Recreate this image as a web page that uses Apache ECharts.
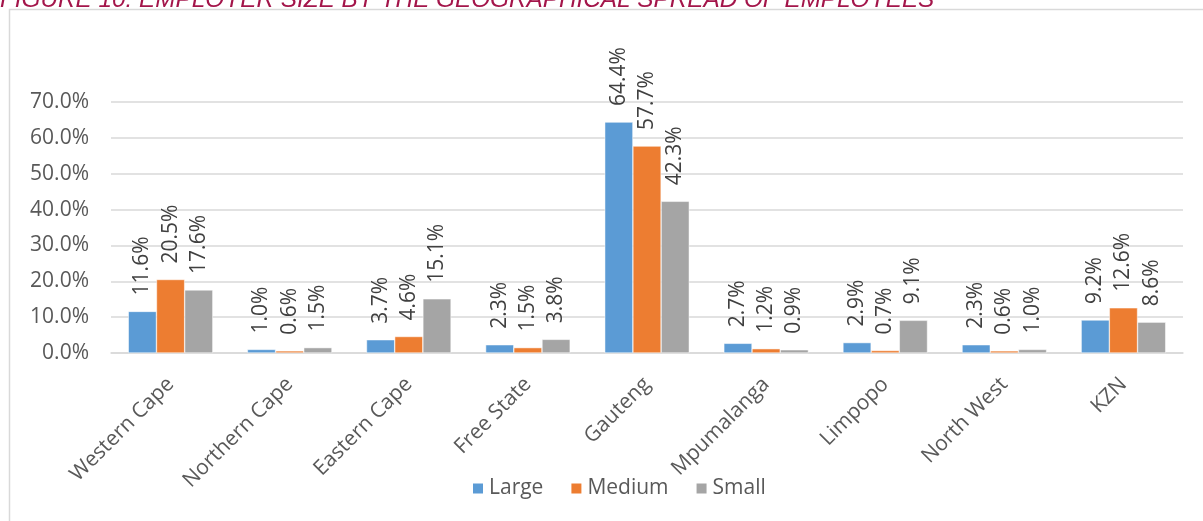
<!DOCTYPE html>
<html><head><meta charset="utf-8">
<script src="https://cdn.jsdelivr.net/npm/echarts@6/dist/echarts.min.js"></script>
<style>html,body{margin:0;padding:0;background:#fff}#c{width:1203px;height:521px}</style>
</head><body><div id="c"></div>
<script>
var titleText = 'FIGURE 10: EMPLOYER SIZE BY THE GEOGRAPHICAL SPREAD OF EMPLOYEES';
var categories = ['Western Cape','Northern Cape','Eastern Cape','Free State','Gauteng','Mpumalanga','Limpopo','North West','KZN'];
var seriesNames = ['Large','Medium','Small'];
var large  = [11.6, 1.0, 3.7, 2.3, 64.4, 2.7, 2.9, 2.3, 9.2];
var medium = [20.5, 0.6, 4.6, 1.5, 57.7, 1.2, 0.7, 0.6, 12.6];
var small  = [17.6, 1.5, 15.1, 3.8, 42.3, 0.9, 9.1, 1.0, 8.6];
var colors = ['#5B9BD5','#ED7D31','#A5A5A5'];
var font = '"Open Sans", "Noto Sans", sans-serif';

var chart = echarts.init(document.getElementById('c'), null, {renderer:'canvas'});
function mk(name, data, color){
  return {
    name: name, type:'bar', data:data, barGap:'0%', barCategoryGap:'29%',
    itemStyle:{color:color, borderColor:'#ffffff', borderWidth:0.5},
    label:{show:true, position:'top', rotate:90, align:'left', verticalAlign:'middle', distance:16,
      formatter:function(p){return p.value.toFixed(1)+'%';},
      fontFamily:font, fontSize:21, color:'#404040'}
  };
}
chart.setOption({
  animation:false,
  color:colors,
  graphic:[
    {type:'rect', shape:{x:9.5,y:9.5,width:1300,height:700}, style:{fill:null, stroke:'#d9d9d9', lineWidth:1.5}, silent:true},
    {type:'text', x:0, y:0, style:{text:titleText, fill:'#A3154A', font:'italic 24.3px "Liberation Sans", Arial, sans-serif', verticalAlign:'middle', align:'left'}}
  ],
  grid:{left:111, right:20, top:102, bottom:168, containLabel:false},
  legend:{data:seriesNames, top:473, left:466, itemWidth:12, itemHeight:12, itemGap:26, icon:'rect',
    textStyle:{fontFamily:font, fontSize:21, color:'#595959'}},
  xAxis:{type:'category', data:categories,
    axisLine:{lineStyle:{color:'#d9d9d9', width:1.5}}, axisTick:{show:false},
    axisLabel:{rotate:45, margin:28, interval:0, fontFamily:font, fontSize:21, color:'#595959'}},
  yAxis:{type:'value', min:0, max:70, interval:10,
    axisLine:{show:false}, axisTick:{show:false},
    splitLine:{lineStyle:{color:'#d9d9d9', width:1.5}},
    axisLabel:{margin:22, fontFamily:font, fontSize:21, color:'#595959', formatter:function(v){return v.toFixed(1)+'%';}}},
  series:[mk(seriesNames[0], large, colors[0]), mk(seriesNames[1], medium, colors[1]), mk(seriesNames[2], small, colors[2])]
});
</script></body></html>
